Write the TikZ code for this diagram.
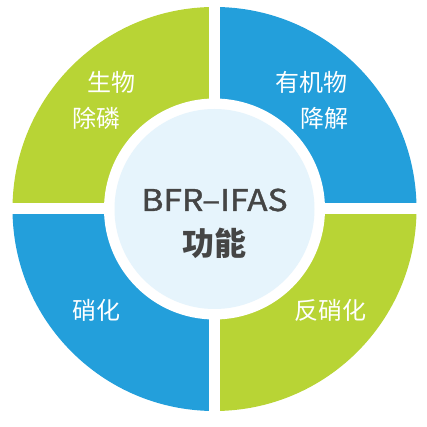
\documentclass[tikz,border=0pt]{standalone}
\usepackage{fontspec}
\setmainfont{Noto Sans CJK SC}
\newfontfamily\titlefont{Noto Sans CJK SC}[FakeBold=1.2]
\definecolor{FuncGreen}{HTML}{B8D435}
\definecolor{FuncBlue}{HTML}{239FDB}
\definecolor{CoreBlue}{HTML}{E6F4FC}
\definecolor{CoreText}{HTML}{454545}

\begin{document}
\begin{tikzpicture}[
  x=1pt, y=1pt,
  sector/.style={draw=none},
  gap/.style={draw=white, line width=11pt},
  lbl/.style={text=white, font=\fontsize{24}{30}\selectfont, inner sep=0pt, anchor=center},
  coretxt/.style={text=CoreText, inner sep=0pt, anchor=center},
]
\useasboundingbox (-214.5,-218) rectangle (212.5,209);

% ============ OUTER RING (four functions) ============
\fill[sector, FuncGreen] (0,0) -- (180:202) arc[start angle=180, end angle=90, radius=202] -- cycle;
\fill[sector, FuncBlue]  (0,0) -- (90:202)  arc[start angle=90,  end angle=0,  radius=202] -- cycle;
\fill[sector, FuncGreen] (0,0) -- (0:202)   arc[start angle=0,   end angle=-90, radius=202] -- cycle;
\fill[sector, FuncBlue]  (0,0) -- (-90:202) arc[start angle=-90, end angle=-180, radius=202] -- cycle;
\coordinate (top) at (0,206);
\coordinate (bot) at (0,-206);
\coordinate (lft) at (-206,0);
\coordinate (rgt) at (206,0);
\draw[gap] (top) -- (bot);
\draw[gap] (lft) -- (rgt);

% ============ CORE ============
\node[circle, fill=white, minimum size=221pt, inner sep=0pt] (ring) at (0,0) {};
\node[circle, fill=CoreBlue, minimum size=200pt, inner sep=0pt] (core) at (ring.center) {};
\node[coretxt, font=\titlefont\fontsize{30}{36}\selectfont] (title) at (0,9) {\scalebox{1.12}[1]{BFR–IFAS}};
\node[coretxt, font=\fontsize{32}{38}\selectfont\bfseries] (func) at (0,-34) {功能};

% ============ LABELS ============
\node[lbl] (bio1) at (-102.5,127) {生物};
\node[lbl] (bio2) at (-117.5,91)  {除磷};
\node[lbl] (org1) at (96.5,127)   {有机物};
\node[lbl] (org2) at (109.5,91)   {降解};
\node[lbl] (nit)  at (-117.5,-101) {硝化};
\node[lbl] (den)  at (115.5,-101)  {反硝化};

\end{tikzpicture}
\end{document}
